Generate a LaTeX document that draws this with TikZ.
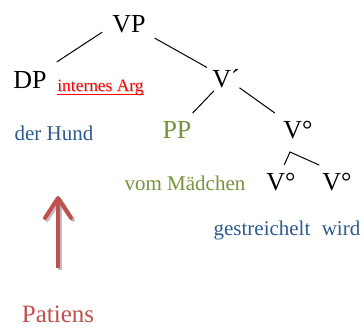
\documentclass[tikz,border=0pt]{standalone}
\usepackage{fontspec}
\setmainfont{Liberation Serif}
\usetikzlibrary{arrows.meta}

\definecolor{wordblue}{HTML}{2C5A8E}
\definecolor{ppgreen}{HTML}{77933C}
\definecolor{patred}{HTML}{C0504D}

\tikzset{
  cat/.style={anchor=base,inner sep=0pt,font=\fontsize{13}{15}\selectfont},
  word/.style={anchor=base,inner sep=0pt,font=\fontsize{10.5}{12}\selectfont},
  branch/.style={line width=0.5pt},
  patarrow/.style={patred,line width=2pt,
    -{Straight Barb[length=10pt,width=13pt,line cap=round,line join=round]}},
}

\begin{document}
\begin{tikzpicture}[x=0.5pt,y=-0.5pt]
\useasboundingbox (0,0) rectangle (364,327);

% categories
\node[cat] (vp) at (129,32) {VP};
\node[cat] (dp) at (30,88) {DP};
\node[cat] (vbar) at (226,87) {V´};
\node[cat,ppgreen] (pp) at (177,138) {PP};
\node[cat] (vo) at (298,138) {V°};
\node[cat] (vlow1) at (281,190) {V°};
\node[cat] (vlow2) at (337,190) {V°};
\coordinate (roof) at (290,152);

% words
\node[word,wordblue] (hund) at (54,140) {der Hund};
\node[word,ppgreen] (maedchen) at (185,190) {vom Mädchen};
\node[word,wordblue] (gest) at (262,235) {gestreichelt};
\node[word,wordblue] (wird) at (341,235) {wird};

\node[anchor=base west,inner sep=0pt,black!20,font=\fontsize{8.7}{10}\selectfont] at (58,92) {internes Arg};
\node[anchor=base west,inner sep=0pt,red,font=\fontsize{8.7}{10}\selectfont] (arg) at (57,91) {internes Arg};
\draw[red,line width=0.6pt] ([yshift=-1.8pt]arg.base west) -- ([yshift=-1.8pt]arg.base east);

% branches
\draw[branch,shorten <=16pt,shorten >=16pt] (vp.north) -- (dp.center);
\draw[branch,shorten <=14.7pt,shorten >=10.9pt] (vp.center) -- (vbar.center);
\draw[branch,shorten <=8.7pt,shorten >=11.3pt] (vbar.center) -- (pp.center);
\draw[branch,shorten <=8.3pt,shorten >=14.2pt] (vbar.center) -- (vo.center);
\draw[branch,shorten <=4pt,shorten >=1.5pt] (vlow1.north) -- (roof) -- ([yshift=3pt]vlow2.north west);

% Patiens
\node[anchor=base,inner sep=0pt,patred,font=\fontsize{12.5}{14}\selectfont] (patiens) at (58,322) {Patiens};
\coordinate (tip) at (58,196);
\draw[patarrow,black!25,transform canvas={shift={(1pt,-1pt)}},shorten <=18.5pt] (patiens.north) -- (tip);
\draw[patarrow,shorten <=18.5pt] (patiens.north) -- (tip);

\end{tikzpicture}
\end{document}
